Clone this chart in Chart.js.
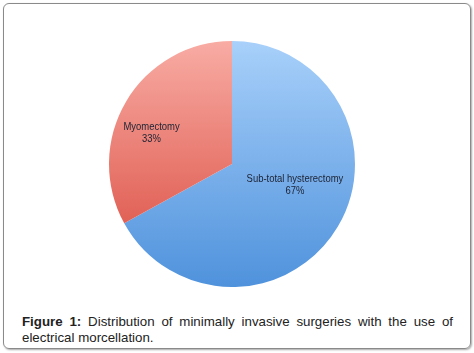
<!DOCTYPE html>
<html>
<head>
<meta charset="utf-8">
<script src="https://cdn.jsdelivr.net/npm/chart.js@4"></script>
<style>
  body { margin: 0; background: #fff; font-family: "Liberation Sans", Arial, sans-serif; }
  #frame {
    position: absolute; left: 3px; top: 3px; width: 466px; height: 344px;
    border: 1px solid #8a8a8a; border-radius: 6px;
    box-shadow: 1px 1px 2px rgba(0,0,0,0.35);
  }
  #pieBox { position: absolute; left: 109px; top: 41px; width: 246px; height: 246px; }
  #caption {
    position: absolute; left: 22px; top: 314px; width: 431px;
    font-size: 13.3px; line-height: 16px; color: #222; text-align: justify;
  }
</style>
</head>
<body>
<div id="frame"></div>
<div id="pieBox"><canvas id="pie"></canvas></div>
<div id="caption"><b>Figure 1:</b> Distribution of minimally invasive surgeries with the use of electrical morcellation.</div>
<script>
const categories = ['Sub-total hysterectomy', 'Myomectomy'];
const shares = [67, 33];

// gradient stops (top, bottom) for each slice
const sliceColors = [['#a8d0fa', '#4f92dc'], ['#f8aca4', '#d9473b']];
// label placement: fraction of radius and angle shift (radians)
const labelSpots = [[0.54, -0.21], [0.70, -0.17]];

const labelPlugin = {
  id: 'sliceLabels',
  afterDatasetsDraw(chart) {
    const ctx = chart.ctx;
    const meta = chart.getDatasetMeta(0);
    meta.data.forEach((arc, i) => {
      const p = arc.getProps(['x', 'y', 'startAngle', 'endAngle', 'outerRadius']);
      const mid = (p.startAngle + p.endAngle) / 2 + labelSpots[i][1];
      const r = p.outerRadius * labelSpots[i][0];
      const x = p.x + Math.cos(mid) * r;
      const y = p.y + Math.sin(mid) * r;
      ctx.save();
      ctx.translate(x, y);
      ctx.scale(0.86, 1); // the original label font is condensed
      ctx.font = '11px "Liberation Sans", Arial, sans-serif';
      ctx.fillStyle = '#1c2233';
      ctx.textAlign = 'center';
      ctx.textBaseline = 'middle';
      ctx.fillText(categories[i], 0, -6);
      ctx.fillText(shares[i] + '%', 0, 6);
      ctx.restore();
    });
  }
};

new Chart(document.getElementById('pie'), {
  type: 'pie',
  data: {
    labels: categories,
    datasets: [{
      data: shares,
      borderWidth: 0,
      backgroundColor(c) {
        const area = c.chart.chartArea;
        if (!area) return sliceColors[c.dataIndex][0];
        const g = c.chart.ctx.createLinearGradient(0, area.top, 0, area.bottom);
        g.addColorStop(0, sliceColors[c.dataIndex][0]);
        g.addColorStop(1, sliceColors[c.dataIndex][1]);
        return g;
      }
    }]
  },
  options: {
    responsive: true,
    maintainAspectRatio: false,
    animation: false,
    layout: { padding: 0 },
    plugins: { legend: { display: false }, tooltip: { enabled: false } }
  },
  plugins: [labelPlugin]
});
</script>
</body>
</html>
